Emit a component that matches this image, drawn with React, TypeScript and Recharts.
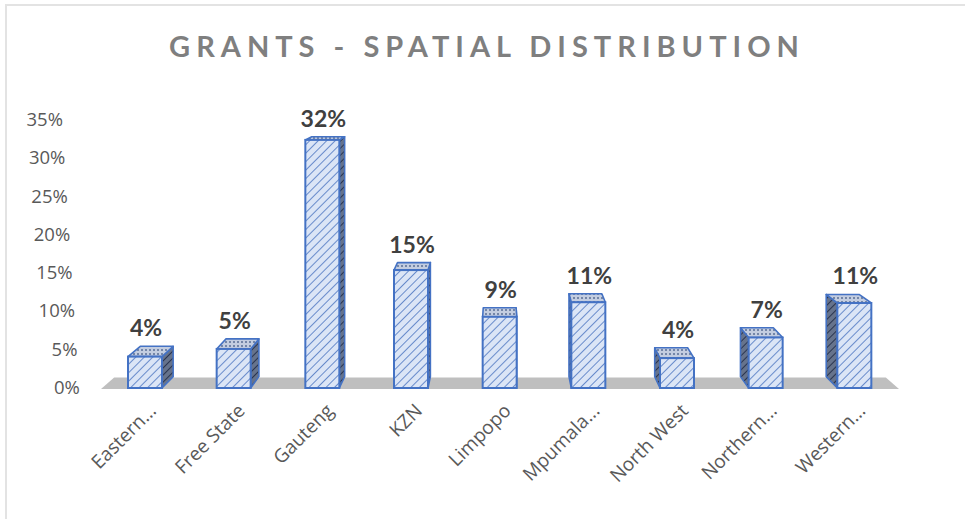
import React from 'react';
import { BarChart, Bar, XAxis, YAxis, ReferenceArea } from 'recharts';

const provinces = ['Eastern...', 'Free State', 'Gauteng', 'KZN', 'Limpopo', 'Mpumala...', 'North West', 'Northern...', 'Western...'];
const shares = [4.1, 5.1, 32.4, 15.4, 9.3, 11.2, 3.9, 6.6, 11.1];
const yTicks = [0, 5, 10, 15, 20, 25, 30, 35];

const data = provinces.map((name, i) => ({ name, value: shares[i] }));

// fake 3d: everything recedes toward one vanishing point
const VX = 500;
const VY = 44;
const K = 0.033;
const back = (px: number, py: number): [number, number] => [px + K * (VX - px), py + K * (VY - py)];
const pts = (list: [number, number][]) => list.map((p) => p.join(',')).join(' ');

const FONT = 'Lato, "Noto Sans", sans-serif';
const TICK_FONT = '"Open Sans", "Noto Sans", sans-serif';
const EDGE = '#4472c4';

function Box3D(props: any) {
  const { x, y, width, height, value } = props;
  const x0 = x;
  const x1 = x + width;
  const y0 = y;
  const y1 = y + height;
  const ftl: [number, number] = [x0, y0];
  const ftr: [number, number] = [x1, y0];
  const fbl: [number, number] = [x0, y1];
  const fbr: [number, number] = [x1, y1];
  const btl = back(x0, y0);
  const btr = back(x1, y0);
  const bbl = back(x0, y1);
  const bbr = back(x1, y1);
  const cx = x + width / 2;
  const side = cx < VX ? [ftr, btr, bbr, fbr] : [ftl, btl, bbl, fbl];
  const top = [ftl, ftr, btr, btl];
  const labelY = Math.min(btl[1], btr[1]) - 10;
  return (
    <g>
      <polygon points={pts(side as any)} fill="url(#hatchSide)" stroke={EDGE} strokeWidth={1.6} strokeLinejoin="round" />
      <polygon points={pts(top as any)} fill="url(#dotTop)" stroke={EDGE} strokeWidth={1.6} strokeLinejoin="round" />
      <rect x={x0} y={y0} width={width} height={height} fill="url(#hatchFront)" stroke={EDGE} strokeWidth={2} />
      <text x={cx + 1} y={labelY} textAnchor="middle" fontFamily={FONT} fontWeight="bold" fontSize={23} fill="#404040">
        {Math.round(value)}%
      </text>
    </g>
  );
}

function Floor(props: any) {
  const { x, width, y, height } = props;
  const yb = y + height + 1;
  const l: [number, number] = [x, yb];
  const r: [number, number] = [x + width, yb];
  return <polygon points={pts([l, r, back(r[0], r[1]), back(l[0], l[1])])} fill="#bfbfbf" />;
}

function YTick(props: any) {
  const { y, payload } = props;
  const right = 80 - ((390 - y) * 17) / 270;
  return (
    <text x={right} y={y} dy={6} textAnchor="end" fontFamily={TICK_FONT} fontSize={18.5} fill="#595959">
      {payload.value}%
    </text>
  );
}

function XTick(props: any) {
  const { x, payload } = props;
  const ax = x + 12;
  const ay = 412;
  return (
    <text x={ax} y={ay} textAnchor="end" transform={`rotate(-45, ${ax}, ${ay})`} fontFamily={TICK_FONT} fontSize={19} fill="#595959">
      {payload.value}
    </text>
  );
}

export default function App() {
  return (
    <div style={{ position: 'fixed', left: 0, top: 0, width: 965, height: 519, background: '#fff', overflow: 'hidden' }}>
      <div style={{ position: 'absolute', left: 5, top: 4, width: 980, height: 540, borderTop: '2px solid #e3e3e3', borderLeft: '2px solid #e3e3e3' }} />
      <svg width={965} height={80} style={{ position: 'absolute', left: 0, top: 0 }}>
        <text x={487} y={57} textAnchor="middle" fontFamily={FONT} fontWeight="bold" fontSize={29} letterSpacing={6} fill="#7f7f7f">
          GRANTS - SPATIAL DISTRIBUTION
        </text>
      </svg>
      <div style={{ position: 'absolute', left: 0, top: 0 }}>
        <BarChart width={965} height={519} data={data} margin={{ top: 120, right: 66, bottom: 31, left: 41 }}>
          <defs>
            <pattern id="hatchFront" width={6} height={6} patternUnits="userSpaceOnUse" patternTransform="rotate(45)">
              <rect width={6} height={6} fill="#dbe5f6" />
              <line x1={0} y1={0} x2={0} y2={6} stroke="#4a74c0" strokeWidth={1.6} />
            </pattern>
            <pattern id="hatchSide" width={5} height={5} patternUnits="userSpaceOnUse" patternTransform="rotate(45)">
              <rect width={5} height={5} fill="#66738c" />
              <line x1={0} y1={0} x2={0} y2={5} stroke="#2a3550" strokeWidth={2} />
            </pattern>
            <pattern id="dotTop" width={4} height={4} patternUnits="userSpaceOnUse">
              <rect width={4} height={4} fill="#c3cde0" />
              <circle cx={2} cy={2} r={1} fill="#5a6e96" />
            </pattern>
          </defs>
          <XAxis dataKey="name" interval={0} axisLine={false} tickLine={false} height={100} tick={<XTick />} />
          <YAxis domain={[0, 35]} ticks={yTicks} width={60} axisLine={false} tickLine={false} tick={<YTick />} />
          <ReferenceArea y1={0} y2={0.5} shape={<Floor />} ifOverflow="visible" />
          <Bar dataKey="value" barSize={34} shape={<Box3D />} isAnimationActive={false} />
        </BarChart>
      </div>
    </div>
  );
}
